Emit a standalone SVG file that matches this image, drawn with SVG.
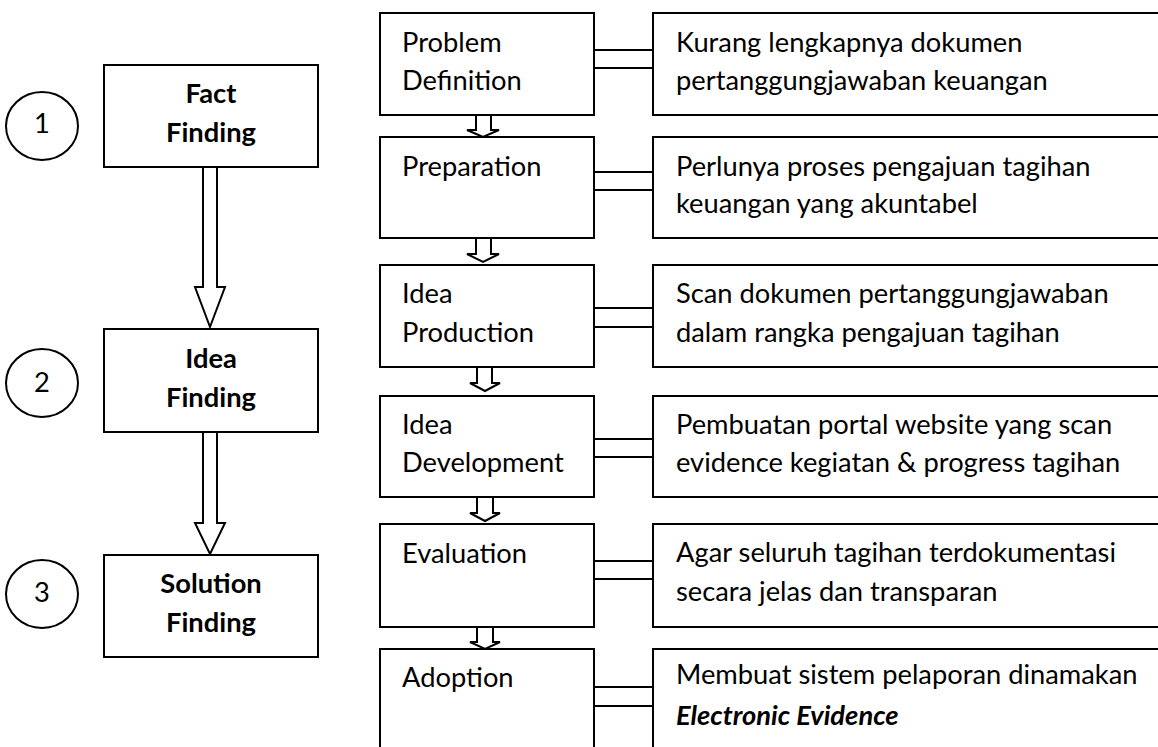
<svg xmlns="http://www.w3.org/2000/svg" width="1158" height="747" viewBox="0 0 1158 747">
  <style>
    .box { fill: #fff; stroke: #000; stroke-width: 2; }
    .ln { fill: none; stroke: #000; stroke-width: 2; }
    .arr { fill: #fff; stroke: #000; stroke-width: 2; stroke-linejoin: miter; }
    text { font-family: Lato, "Liberation Sans", sans-serif; font-size: 27.3px; fill: #000; }
    .b { font-weight: bold; text-anchor: middle; }
    .num { text-anchor: middle; }
  </style>
  <rect width="1158" height="747" fill="#fff"/>

  <!-- connectors -->
  <g id="connectors">
    <!-- large hollow arrows between stage boxes -->
    <path class="arr" d="M203,167 V287 H195 L210,327 L225,287 H217 V167 Z"/>
    <path class="arr" d="M203,432 V523 H195 L210,554 L225,523 H217 V432 Z"/>
    <!-- small hollow arrows between step boxes -->
    <path class="arr" d="M476,115 V130 H467 L483,137 L499,130 H491 V115 Z"/>
    <path class="arr" d="M476,238 V254 H467 L483,262 L499,254 H491 V238 Z"/>
    <path class="arr" d="M477,367 V383 H470 L485,391 L500,383 H492 V367 Z"/>
    <path class="arr" d="M477,497 V513 H470 L485,521 L500,513 H493 V497 Z"/>
    <path class="arr" d="M477,627 V642 H470 L485,649 L500,642 H493 V627 Z"/>
    <!-- double links step -> description -->
    <path class="ln" d="M594,50 H653 M594,68 H653"/>
    <path class="ln" d="M594,172 H653 M594,190 H653"/>
    <path class="ln" d="M594,308 H653 M594,327 H653"/>
    <path class="ln" d="M594,439 H653 M594,457 H653"/>
    <path class="ln" d="M594,561 H653 M594,579 H653"/>
    <path class="ln" d="M594,687 H653 M594,706 H653"/>
  </g>

  <!-- stage numbers -->
  <g id="num1"><ellipse class="box" cx="42" cy="126" rx="36" ry="34"/><text class="num" x="42" y="133">1</text></g>
  <g id="num2"><ellipse class="box" cx="42" cy="383" rx="36" ry="34"/><text class="num" x="42" y="392">2</text></g>
  <g id="num3"><ellipse class="box" cx="42" cy="594" rx="36" ry="34"/><text class="num" x="42" y="602">3</text></g>

  <!-- stages -->
  <g id="fact-finding"><rect class="box" x="104" y="65" width="214" height="102"/>
    <text class="b" x="211" y="103">Fact</text><text class="b" x="211" y="142">Finding</text></g>
  <g id="idea-finding"><rect class="box" x="104" y="329" width="214" height="103"/>
    <text class="b" x="211" y="368">Idea</text><text class="b" x="211" y="407">Finding</text></g>
  <g id="solution-finding"><rect class="box" x="104" y="555" width="214" height="102"/>
    <text class="b" x="211" y="593">Solution</text><text class="b" x="211" y="632">Finding</text></g>

  <!-- steps -->
  <g id="problem-definition"><rect class="box" x="380" y="13" width="214" height="102"/>
    <text x="402" y="52">Problem</text><text x="402" y="90">Definition</text></g>
  <g id="preparation"><rect class="box" x="380" y="137" width="214" height="101"/>
    <text x="402" y="176">Preparation</text></g>
  <g id="idea-production"><rect class="box" x="380" y="265" width="214" height="102"/>
    <text x="402" y="303">Idea</text><text x="402" y="342">Production</text></g>
  <g id="idea-development"><rect class="box" x="380" y="396" width="214" height="101"/>
    <text x="402" y="434">Idea</text><text x="402" y="472">Development</text></g>
  <g id="evaluation"><rect class="box" x="380" y="524" width="214" height="103"/>
    <text x="402" y="563">Evaluation</text></g>
  <g id="adoption"><rect class="box" x="380" y="649" width="214" height="110"/>
    <text x="402" y="687">Adoption</text></g>

  <!-- descriptions -->
  <g id="desc1"><rect class="box" x="653" y="13" width="510" height="102"/>
    <text x="676" y="52">Kurang lengkapnya dokumen</text><text x="676" y="90">pertanggungjawaban keuangan</text></g>
  <g id="desc2"><rect class="box" x="653" y="137" width="510" height="101"/>
    <text x="676" y="176">Perlunya proses pengajuan tagihan</text><text x="676" y="213">keuangan yang akuntabel</text></g>
  <g id="desc3"><rect class="box" x="653" y="265" width="510" height="102"/>
    <text x="676" y="303">Scan dokumen pertanggungjawaban</text><text x="676" y="342">dalam rangka pengajuan tagihan</text></g>
  <g id="desc4"><rect class="box" x="653" y="396" width="510" height="101"/>
    <text x="676" y="434">Pembuatan portal website yang scan</text><text x="676" y="472">evidence kegiatan &amp; progress tagihan</text></g>
  <g id="desc5"><rect class="box" x="653" y="524" width="510" height="103"/>
    <text x="676" y="562">Agar seluruh tagihan terdokumentasi</text><text x="676" y="601">secara jelas dan transparan</text></g>
  <g id="desc6"><rect class="box" x="653" y="649" width="510" height="110"/>
    <text x="676" y="684">Membuat sistem pelaporan dinamakan</text><text x="676" y="725" font-weight="bold" font-style="italic">Electronic Evidence</text></g>
</svg>
